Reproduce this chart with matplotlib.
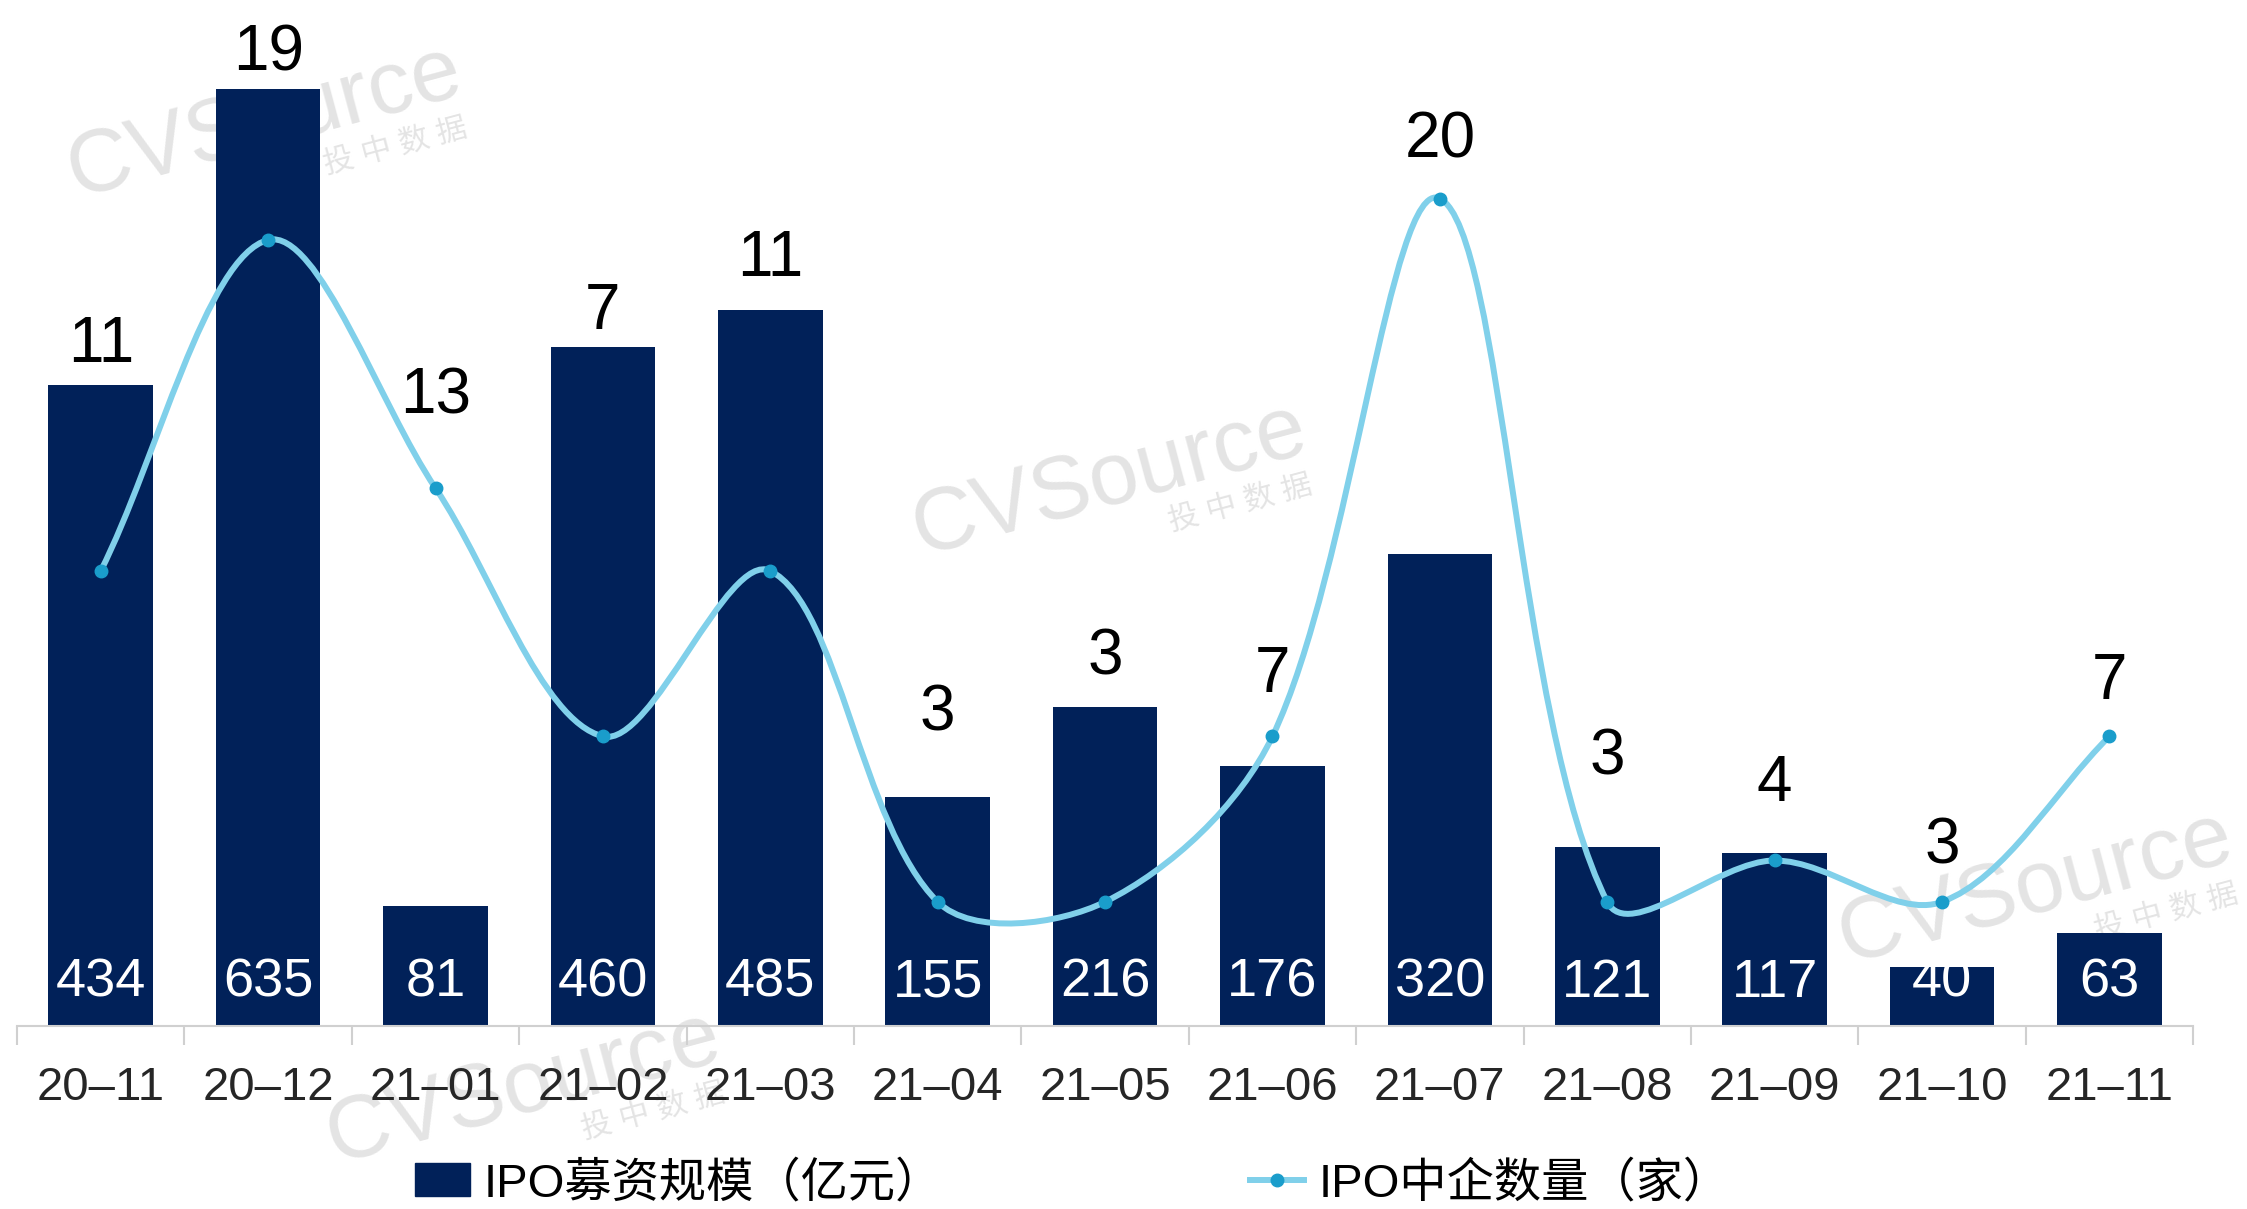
import numpy as np
import matplotlib
matplotlib.use("Agg")
import matplotlib.pyplot as plt
from matplotlib.path import Path
from matplotlib.patches import PathPatch, Patch
from matplotlib.lines import Line2D

plt.rcParams['font.family'] = ['Liberation Sans', 'Noto Sans CJK SC']

# === Données ===
months = ["20–11", "20–12", "21–01", "21–02", "21–03", "21–04", "21–05",
          "21–06", "21–07", "21–08", "21–09", "21–10", "21–11"]
ipo_amount = [434, 635, 81, 460, 485, 155, 216, 176, 320, 121, 117, 40, 63]
ipo_count = [11, 19, 13, 7, 11, 3, 3, 7, 20, 3, 4, 3, 7]
legend_labels = ["IPO募资规模（亿元）", "IPO中企数量（家）"]

# décalage (points) des étiquettes du nombre au-dessus de la barre / du point
count_label_pad = [29, 25, 66, 25, 37, 60, 36, 44, 42, 65, 50, 40, 39]

BAR_COLOR = "#012159"
LINE_COLOR = "#80d0ea"
DOT_COLOR = "#1a9dcb"
Y1_MAX = 695
Y2_MAX = 24.8

fig = plt.figure(figsize=(22.47, 12.09), dpi=100)
ax = fig.add_axes([0.0076, 0.1514, 0.9684, 0.8486])
ax2 = ax.twinx()

x = np.arange(len(months))

# --- filigranes ---
def watermark(xf, yf):
    ax.text(xf, yf, "CVSource", transform=fig.transFigure, rotation=15,
            fontsize=64, color="#e4e4e4", ha="center", va="center",
            zorder=0, clip_on=False)
    ax.text(xf + 0.058, yf - 0.02, "投 中 数 据", transform=fig.transFigure,
            rotation=15, fontsize=22, color="#e4e4e4", ha="center",
            va="center", zorder=0, clip_on=False)

for wx, wy in [(0.118, 0.899), (0.494, 0.603), (0.906, 0.265), (0.233, 0.100)]:
    watermark(wx, wy)

# --- barres ---
ax.bar(x, ipo_amount, width=0.625, color=BAR_COLOR, zorder=2)
ax.set_xlim(-0.5, len(months) - 0.5)
ax.set_ylim(0, Y1_MAX)
ax2.set_ylim(0, Y2_MAX)

for i in x:
    ax.annotate(str(ipo_amount[i]), (i, 0), xytext=(0, 31),
                textcoords="offset points", ha="center", va="center",
                color="white", fontsize=39, zorder=3)

# --- courbe lissée (Bezier, tangentes pondérées par la longueur des segments) ---
pts = np.column_stack([x, ipo_count]).astype(float)
# échelle écran approx. (px par unité) pour mesurer les longueurs
sx, sy = 2176 / len(months), 1026 / Y2_MAX
n = len(pts)
c_in = pts.copy()
c_out = pts.copy()
for i in range(n):
    prev_p = pts[max(i - 1, 0)]
    next_p = pts[min(i + 1, n - 1)]
    tang = next_p - prev_p
    d1 = np.hypot((pts[i][0] - prev_p[0]) * sx, (pts[i][1] - prev_p[1]) * sy)
    d2 = np.hypot((next_p[0] - pts[i][0]) * sx, (next_p[1] - pts[i][1]) * sy)
    tot = d1 + d2
    c_in[i] = pts[i] - tang * d1 / tot / 3
    c_out[i] = pts[i] + tang * d2 / tot / 3
verts = [pts[0]]
codes = [Path.MOVETO]
for i in range(n - 1):
    verts += [c_out[i], c_in[i + 1], pts[i + 1]]
    codes += [Path.CURVE4] * 3
ax2.add_patch(PathPatch(Path(verts, codes), fill=False, edgecolor=LINE_COLOR,
                        lw=4.3, capstyle="round", zorder=2))
ax2.plot(x, ipo_count, "o", color=DOT_COLOR, ms=9, zorder=3)

amount_in_count = np.array(ipo_amount) / Y1_MAX * Y2_MAX
for i in x:
    anchor = max(amount_in_count[i], ipo_count[i])
    ax2.annotate(str(ipo_count[i]), (i, anchor), xytext=(0, count_label_pad[i]),
                 textcoords="offset points", ha="center", va="center",
                 fontsize=46, color="black")

# --- axes ---
ax.set_xticks(x)
ax.set_xticklabels(months, fontsize=34, color="#262626")
ax.tick_params(axis="x", which="major", length=0, pad=29)
ax.set_xticks(np.arange(-0.5, len(months), 1), minor=True)
ax.tick_params(axis="x", which="minor", length=14, width=1.5, color="#d0d0d0")
ax.set_yticks([])
ax2.set_yticks([])
for s in ["top", "left", "right"]:
    ax.spines[s].set_visible(False)
for s in ax2.spines.values():
    s.set_visible(False)
ax.spines["bottom"].set_color("#d0d0d0")
ax.spines["bottom"].set_linewidth(1.5)

# --- légende ---
handles = [Patch(color=BAR_COLOR),
           Line2D([], [], color=LINE_COLOR, lw=4.3, marker="o", ms=9,
                  mfc=DOT_COLOR, mec=DOT_COLOR)]
fig.legend(handles, legend_labels, loc="center", bbox_to_anchor=(0.4775, 0.0207),
           ncol=2, frameon=False, fontsize=34, columnspacing=6.5,
           handlelength=1.15, handletextpad=0.3, handleheight=0.7)

fig.savefig("out.png", dpi=100)
